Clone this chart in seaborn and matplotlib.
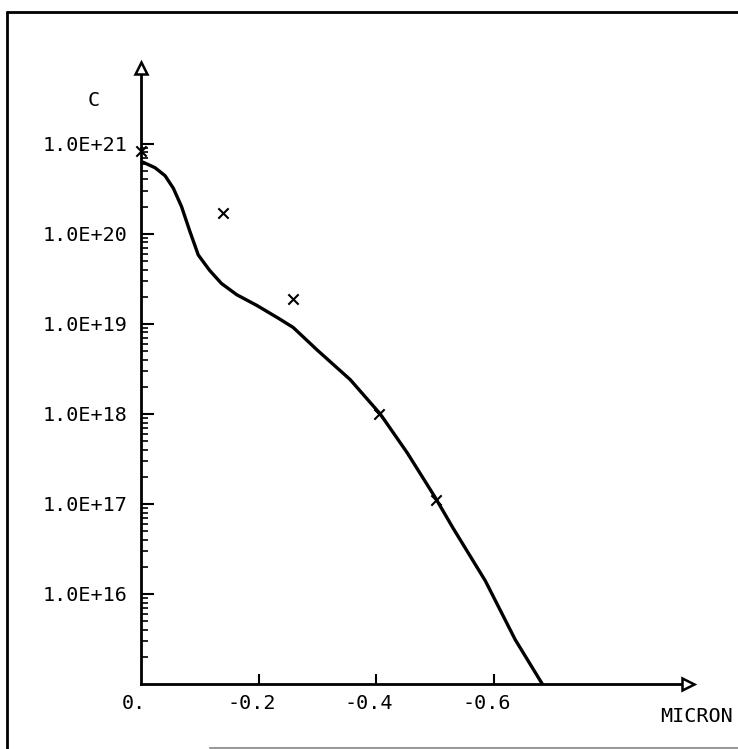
import matplotlib
matplotlib.use('Agg')

import pandas as pd
import matplotlib.pyplot as plt
import matplotlib.ticker as mticker
import matplotlib.transforms as mtransforms
from matplotlib.lines import Line2D
import seaborn as sns


# =========================================================
# DATA (read from the scanned profile)
# =========================================================

# simulated profile, depth in micron
depth_curve = [0.0, -0.004, -0.024, -0.041, -0.055, -0.069, -0.083, -0.0975,
               -0.117, -0.137, -0.163, -0.197, -0.234, -0.259, -0.300,
               -0.356, -0.407, -0.453, -0.500, -0.531, -0.586, -0.637,
               -0.683]
conc_curve = [6.3e20, 6.2e20, 5.4e20, 4.4e20, 3.2e20, 2.0e20, 1.07e20, 5.8e19,
              3.9e19, 2.8e19, 2.1e19, 1.6e19, 1.15e19, 9.1e18, 5.1e18,
              2.4e18, 1.0e18, 3.7e17, 1.2e17, 5.4e16, 1.4e16, 3.1e15,
              1.0e15]

# measured points
depth_meas = [0.0, -0.139, -0.259, -0.405, -0.502]
conc_meas = [8.2e20, 1.7e20, 1.9e19, 1.0e18, 1.1e17]

x_ticks = [0.0, -0.2, -0.4, -0.6]
x_tick_labels = ['0.', '-0.2', '-0.4', '-0.6']
y_ticks = [1e16, 1e17, 1e18, 1e19, 1e20, 1e21]
y_tick_labels = ['1.0E+16', '1.0E+17', '1.0E+18', '1.0E+19', '1.0E+20', '1.0E+21']

curve_df = pd.DataFrame({'depth': depth_curve, 'conc': conc_curve})
meas_df = pd.DataFrame({'depth': depth_meas, 'conc': conc_meas})


# =========================================================
# FIGURE
# =========================================================

sns.set_style('white')
plt.rcParams['font.family'] = ['DejaVu Sans Mono', 'DejaVu Sans']
plt.rcParams['text.color'] = 'black'
plt.rcParams['xtick.color'] = 'black'
plt.rcParams['ytick.color'] = 'black'
plt.rcParams['xtick.labelcolor'] = 'black'
plt.rcParams['ytick.labelcolor'] = 'black'

fig = plt.figure(figsize=(7.38, 7.49), dpi=100)
ax = fig.add_axes([141 / 738, 1 - 684 / 749, 547 / 738, 616 / 749])

sns.lineplot(data=curve_df, x='depth', y='conc', ax=ax, sort=False,
             estimator=None, color='black', linewidth=2.4)
sns.scatterplot(data=meas_df, x='depth', y='conc', ax=ax, marker='x',
                s=55, color='black', linewidth=1.5, clip_on=False, zorder=5)

ax.set_yscale('log')
ax.set_ylim(1e15, 10 ** 21.84)
ax.set_xlim(0, -0.931)

ax.set_xlabel('')
ax.set_ylabel('')

for side in ['top', 'right']:
    ax.spines[side].set_visible(False)
for side in ['left', 'bottom']:
    ax.spines[side].set_linewidth(2)
    ax.spines[side].set_color('black')

# y axis ticks
ax.yaxis.set_major_locator(mticker.FixedLocator(y_ticks))
ax.yaxis.set_major_formatter(mticker.FixedFormatter(y_tick_labels))
minor = [float(m) * 10.0 ** e for e in range(15, 21) for m in range(2, 10)]
ax.yaxis.set_minor_locator(mticker.FixedLocator(minor))
ax.yaxis.set_minor_formatter(mticker.NullFormatter())
ax.tick_params(axis='y', which='major', direction='in', length=9, width=1.5,
               labelsize=14.5, pad=10, left=True)
ax.tick_params(axis='y', which='minor', direction='in', length=5, width=1.2,
               left=True)

# x axis ticks
ax.set_xticks(x_ticks)
ax.set_xticklabels(x_tick_labels)
ax.tick_params(axis='x', which='major', direction='in', length=7, width=1.5,
               labelsize=14.5, pad=7, bottom=True)
ax.xaxis.get_major_ticks()[0].tick1line.set_visible(False)

shift = mtransforms.ScaledTranslation(-7 / 100, 0, fig.dpi_scale_trans)
for label in ax.get_xticklabels():
    label.set_transform(label.get_transform() + shift)

# open arrow heads at axis ends
ax.plot(0, 1, marker='^', markersize=9, mfc='white', mec='black', mew=1.8,
        transform=ax.transAxes, clip_on=False, zorder=6)
ax.plot(1, 0, marker='>', markersize=9, mfc='white', mec='black', mew=1.8,
        transform=ax.transAxes, clip_on=False, zorder=6)

# axis titles
fig.text(94 / 738, 1 - 100 / 749, 'C', fontsize=14.5, ha='center',
         va='center')
fig.text(733 / 738, 1 - 717 / 749, 'MICRON', fontsize=14.5, ha='right',
         va='center')

# page frame of the scan
fig.add_artist(Line2D([7 / 738, 1], [1 - 12 / 749, 1 - 12 / 749],
                      color='black', linewidth=2))
fig.add_artist(Line2D([7 / 738, 7 / 738], [0, 1 - 12 / 749],
                      color='black', linewidth=2))
fig.add_artist(Line2D([210 / 738, 1], [1 / 749, 1 / 749],
                      color='#999999', linewidth=1.5))

fig.savefig('out.png', dpi=100, facecolor='white')
